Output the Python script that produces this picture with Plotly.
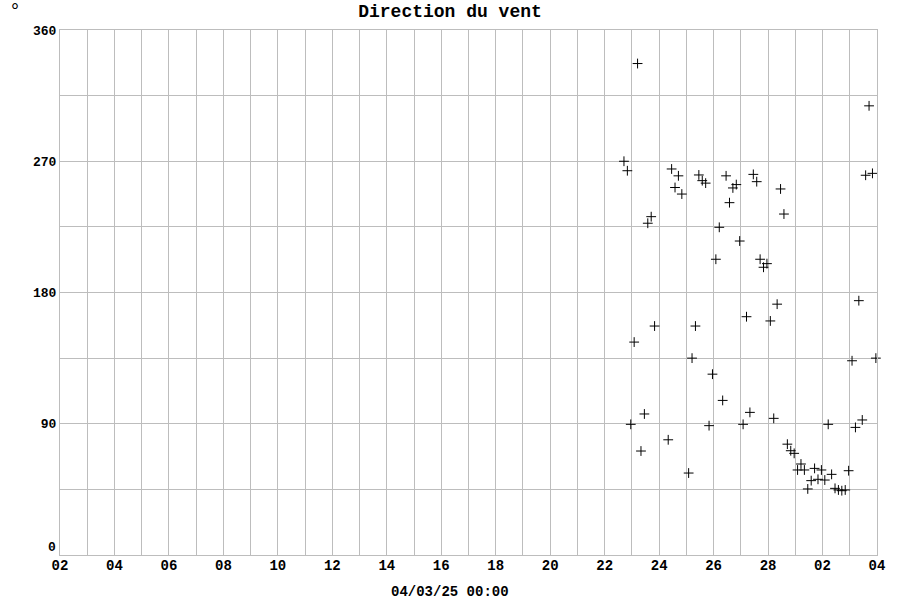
import pandas as pd
import plotly.graph_objects as go

# 3-hourly readings, index k -> Feb 22 02:00 + 3h*k
steps = [5, 6, 7, 8, 9, 10, 11, 12, 13, 14,
         18, 19, 20, 21, 22, 24, 25, 26, 27, 28,
         29, 30, 31, 32, 33, 34, 35, 36, 37, 38,
         39, 40, 41, 42, 43, 44, 45, 46, 47, 48,
         49, 50, 51, 52, 53, 54, 55, 56, 57, 58,
         59, 60, 61, 62, 63, 64, 65, 66, 67, 68,
         69, 70, 71, 72, 73, 74, 75, 76, 77, 78, 79]
direction = [270, 263.5, 89.6, 146, 337, 71.3, 96.7, 227.5, 232, 157,
             79, 264.7, 252, 260, 247.5, 56.2, 135, 157, 260.6, 256.7,
             255, 88.7, 124, 202.8, 224.7, 106, 260, 241.6, 251.7, 254,
             215.3, 89.6, 163.4, 97.8, 261, 256, 202.8, 197.3, 199.8, 160.5,
             93.7, 172, 251, 233.8, 76, 71.5, 69.7, 58.3, 62.4, 58.3,
             45.3, 51, 59.4, 51.9, 58.3, 51.4, 89.6, 55.3, 45.7, 44.6,
             44.1, 44.6, 57.8, 133.2, 87.5, 174.4, 92.6, 260.4, 308, 261.7, 135]
y_ticks = [90, 180, 270, 360]   # the "0" label sits a little higher, added below

start = pd.Timestamp("2025-02-22 02:00")
times = [start + pd.Timedelta(hours=3 * k) for k in steps]

grid = "#bdbdbd"
mono = "Liberation Mono"

fig = go.Figure()
fig.add_trace(go.Scatter(
    x=times, y=direction, mode="markers",
    marker=dict(symbol="cross-thin", size=7, color="black",
                line=dict(width=1, color="black")),
    cliponaxis=False, showlegend=False,
))

fig.update_xaxes(
    type="date",
    range=["2025-02-02", "2025-03-04"],
    tick0="2025-02-02", dtick=2 * 86400000, tickformat="%d",
    showgrid=True, gridcolor=grid, gridwidth=1,
    minor=dict(dtick=86400000, showgrid=True, gridcolor=grid, gridwidth=1),
    showline=True, linecolor=grid, mirror=True, linewidth=1,
    ticks="", ticklabelstandoff=-3, automargin=False,
    tickfont=dict(family=mono, size=14, color="black", weight="bold"),
    zeroline=False,
)
fig.update_yaxes(
    range=[0, 360], tickmode="array", tickvals=y_ticks,
    showgrid=True, gridcolor=grid, gridwidth=1,
    minor=dict(tick0=0, dtick=45, showgrid=True, gridcolor=grid, gridwidth=1),
    showline=True, linecolor=grid, mirror=True, linewidth=1,
    ticks="", zeroline=False, automargin=False,
    tickfont=dict(family=mono, size=13, color="black", weight="bold"),
)

fig.update_layout(
    width=900, height=600,
    plot_bgcolor="white", paper_bgcolor="white",
    margin=dict(l=60, r=23, t=30, b=45, autoexpand=False),
    title=dict(text="Direction du vent", x=0.5, xanchor="center",
               y=0.983, yanchor="middle",
               font=dict(family=mono, size=18, color="black", weight="bold")),
    annotations=[
        dict(text="°", xref="paper", yref="paper", x=-0.055, y=1.036,
             showarrow=False, xanchor="center", yanchor="middle",
             font=dict(family=mono, size=20, color="black")),
        dict(text="0", xref="paper", yref="paper", x=-0.0025, y=0.014,
             showarrow=False, xanchor="right", yanchor="middle",
             font=dict(family=mono, size=13, color="black", weight="bold")),
        dict(text="04/03/25 00:00", xref="paper", yref="paper", x=0.477,
             y=-0.0705, showarrow=False, xanchor="center", yanchor="middle",
             font=dict(family=mono, size=14, color="black", weight="bold")),
    ],
)

# drop the browser's default body margin so the figure sits at 0,0
fig.write_html("out.html", config={"displayModeBar": False},
               post_script="document.body.style.margin='0px';")
